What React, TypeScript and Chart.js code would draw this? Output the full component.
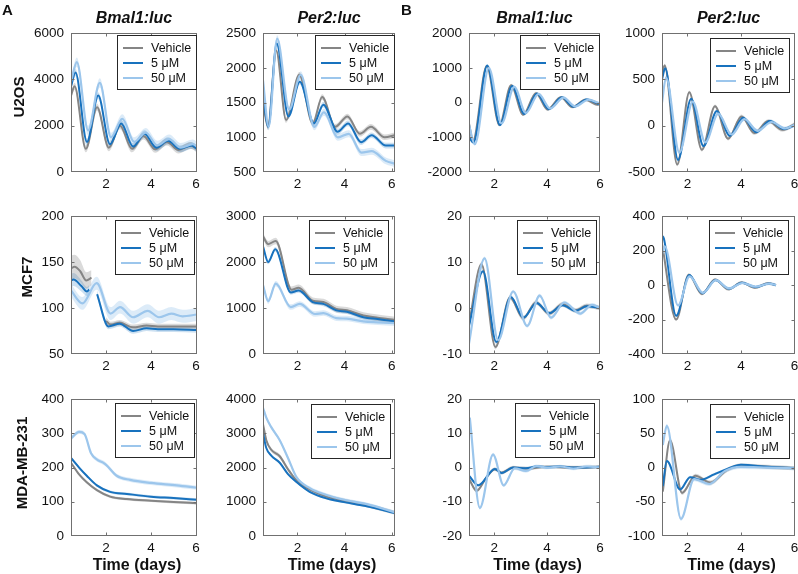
import React, { useEffect, useRef } from 'react';
import { Chart, registerables } from 'chart.js';

Chart.register(...registerables);

// [time (days), value, optional SEM at that point]
type Pt = [number, number | null, number?];

// ---------------- data ----------------
const SERIES_NAMES = ['Vehicle', '5 μM', '50 μM'];
const CELL_LINES = ['U2OS', 'MCF7', 'MDA-MB-231'];
const REPORTERS = ['Bmal1:luc', 'Per2:luc', 'Bmal1:luc', 'Per2:luc'];
const PANEL_LETTERS = ['A', 'B'];
const X_LABEL = 'Time (days)';
const X_TICKS = [2, 4, 6];

// U2OS, Bmal1:luc (raw)
const U2OS_BMAL_VEH: Pt[] = [[0.44, 3300], [0.6, 3700], [1.1, 1000], [1.6, 2800], [2.12, 1050], [2.62, 2000], [3.15, 1000], [3.66, 1550], [4.18, 980], [4.7, 1300], [5.22, 950], [5.75, 1150], [6.04, 1000]];
const U2OS_BMAL_5: Pt[] = [[0.44, 3700], [0.64, 4300], [1.15, 1300], [1.65, 3300], [2.17, 1200], [2.67, 2100], [3.2, 1100], [3.71, 1650], [4.23, 1050], [4.75, 1350], [5.27, 1000], [5.8, 1150], [6.04, 1000]];
const U2OS_BMAL_50: Pt[] = [[0.44, 3900], [0.7, 4750], [1.2, 1800], [1.72, 3850], [2.22, 1500], [2.72, 2300], [3.25, 1300], [3.76, 1700], [4.28, 1150], [4.8, 1420], [5.32, 1050], [5.85, 1200], [6.04, 1100]];
const U2OS_BMAL_SEM = [150, 150, 200];
const U2OS_BMAL_YTICKS = [0, 2000, 4000, 6000];

// U2OS, Per2:luc (raw)
const U2OS_PER_VEH: Pt[] = [[0.54, 1500], [0.75, 1150], [1.1, 2250], [1.52, 1250], [2.08, 1900], [2.65, 1200], [3.05, 1580], [3.6, 1150], [4.12, 1300], [4.65, 1050], [5.12, 1150], [5.7, 1000], [6.14, 1030]];
const U2OS_PER_5: Pt[] = [[0.54, 1600], [0.76, 1150], [1.12, 2350], [1.62, 1300], [2.1, 1800], [2.7, 1200], [3.1, 1470], [3.7, 1080], [4.15, 1200], [4.7, 930], [5.15, 1030], [5.75, 880], [6.14, 880]];
const U2OS_PER_50: Pt[] = [[0.54, 1820], [0.78, 1150], [1.14, 2420], [1.65, 1400], [2.14, 1900], [2.72, 1150], [3.12, 1360], [3.72, 1000], [4.18, 1050], [4.72, 780], [5.15, 800], [5.75, 660], [6.14, 620]];
const U2OS_PER_SEM = [40, 40, 50];
const U2OS_PER_YTICKS = [500, 1000, 1500, 2000, 2500];

// U2OS, Bmal1:luc (detrended)
const U2OS_BMAL_D_VEH: Pt[] = [[1.05, -600], [1.2, -1100], [1.72, 1050], [2.2, -650], [2.64, 500], [3.1, -350], [3.58, 270], [4.02, -200], [4.52, 150], [4.95, -130], [5.45, 80], [5.9, -60], [6.0, -40]];
const U2OS_BMAL_D_5: Pt[] = [[1.05, -1000], [1.22, -1150], [1.74, 1070], [2.22, -650], [2.68, 480], [3.14, -330], [3.62, 260], [4.06, -190], [4.56, 150], [5.0, -120], [5.5, 90], [6.0, -60]];
const U2OS_BMAL_D_50: Pt[] = [[1.05, -650], [1.27, -1200], [1.8, 1000], [2.28, -600], [2.76, 450], [3.2, -300], [3.68, 250], [4.12, -170], [4.62, 140], [5.06, -110], [5.56, 80], [6.0, -30]];
const U2OS_BMAL_D_SEM = [40, 40, 40];
const U2OS_BMAL_D_YTICKS = [-2000, -1000, 0, 1000, 2000];

// U2OS, Per2:luc (detrended)
const U2OS_PER_D_VEH: Pt[] = [[1.05, 560], [1.15, 650], [1.62, -420], [2.07, 360], [2.54, -260], [3.03, 210], [3.52, -140], [4.02, 100], [4.5, -80], [5.02, 50], [5.55, -45], [6.02, 20]];
const U2OS_PER_D_5: Pt[] = [[1.05, 500], [1.17, 620], [1.65, -370], [2.14, 290], [2.6, -220], [3.1, 160], [3.58, -110], [4.08, 85], [4.57, -70], [5.08, 50], [5.6, -35], [6.02, 5]];
const U2OS_PER_D_50: Pt[] = [[1.05, 250], [1.2, 520], [1.7, -290], [2.2, 260], [2.67, -180], [3.15, 130], [3.65, -95], [4.13, 70], [4.62, -55], [5.14, 40], [5.65, -30], [6.02, 10]];
const U2OS_PER_D_SEM = [20, 20, 20];
const U2OS_PER_D_YTICKS = [-500, 0, 500, 1000];

// MCF7, Bmal1:luc (raw) — third column is the local SEM
const MCF7_BMAL_VEH: Pt[] = [[0.44, 143, 14], [0.6, 145, 13], [0.85, 140, 12], [1.12, 130, 9], [1.35, 133, 8], [1.45, null], [2.0, 86, 4], [2.2, 82, 3], [2.6, 84, 3], [3.2, 79, 3], [3.8, 81, 3], [4.3, 80, 3], [5.0, 80, 3], [6.04, 80, 3]];
const MCF7_BMAL_5: Pt[] = [[0.44, 130, 7], [0.55, 131, 7], [0.9, 124, 6], [1.15, 118, 5], [1.25, 120, 5], [1.3, null], [1.6, 115, 4], [2.1, 80, 3], [2.6, 83, 3], [3.2, 75, 3], [3.8, 78, 3], [4.3, 77, 3], [5.0, 77, 3], [6.04, 76, 3]];
const MCF7_BMAL_50: Pt[] = [[0.44, 119], [0.95, 105], [1.58, 127], [2.2, 94], [2.62, 101], [3.2, 90], [3.85, 97], [4.35, 90], [4.9, 94], [5.4, 91], [6.04, 93]];
const MCF7_BMAL_SEM = [10, 5, 7];
const MCF7_BMAL_YTICKS = [50, 100, 150, 200];

// MCF7, Per2:luc (raw)
const MCF7_PER_VEH: Pt[] = [[0.54, 2560], [0.76, 2390], [1.08, 2460], [1.75, 1400], [2.05, 1440], [2.65, 1160], [3.1, 1130], [3.65, 980], [4.1, 950], [4.8, 840], [5.4, 790], [6.0, 750], [6.14, 740]];
const MCF7_PER_5: Pt[] = [[0.54, 2340], [0.76, 2000], [1.06, 2280], [1.72, 1340], [2.05, 1380], [2.65, 1130], [3.1, 1090], [3.65, 950], [4.1, 920], [4.8, 800], [5.4, 760], [6.0, 720], [6.14, 710]];
const MCF7_PER_50: Pt[] = [[0.54, 1500], [0.76, 1150], [1.08, 1530], [1.72, 1020], [2.1, 1090], [2.75, 870], [3.1, 890], [3.65, 780], [4.1, 770], [4.8, 710], [5.4, 690], [6.14, 670]];
const MCF7_PER_SEM = [70, 50, 60];
const MCF7_PER_YTICKS = [0, 1000, 2000, 3000];

// MCF7, Bmal1:luc (detrended)
const MCF7_BMAL_D_VEH: Pt[] = [[1.05, -3.5], [1.52, 9.5], [2.05, -8.5], [2.6, 2.3], [3.1, -2.2], [3.58, 1.2], [4.08, -1.2], [4.58, 0.8], [5.08, -0.5], [5.5, 0.5], [6.0, 0]];
const MCF7_BMAL_D_5: Pt[] = [[1.05, -3.9], [1.58, 8.0], [2.08, -7.4], [2.63, 2.4], [3.11, -2.1], [3.6, 1.1], [4.09, -1.1], [4.58, 0.6], [5.09, -0.6], [5.5, 0.4], [6.0, 0]];
const MCF7_BMAL_D_50: Pt[] = [[1.05, -7.7], [1.64, 10.8], [2.15, -7], [2.72, 3.6], [3.25, -3.9], [3.72, 2.7], [4.15, -2.1], [4.65, 1.2], [5.25, -1.2], [5.7, 0.7], [6.0, 0]];
const MCF7_BMAL_D_SEM = [0.5, 0.4, 0.4];
const MCF7_BMAL_D_YTICKS = [-10, 0, 10, 20];

// MCF7, Per2:luc (detrended)
const MCF7_PER_D_VEH: Pt[] = [[1.05, 240], [1.58, -200], [2.05, 60], [2.54, -52], [3.03, 32], [3.53, -25], [4.02, 15], [4.52, -15], [5.02, 10], [5.31, 0]];
const MCF7_PER_D_5: Pt[] = [[1.05, 285], [1.12, 270], [1.58, -178], [2.07, 58], [2.56, -48], [3.05, 30], [3.55, -22], [4.04, 14], [4.54, -12], [5.04, 9], [5.31, 0]];
const MCF7_PER_D_50: Pt[] = [[1.05, 180], [1.15, 225], [1.65, -118], [2.08, 50], [2.58, -45], [3.06, 28], [3.56, -20], [4.05, 12], [4.55, -10], [5.05, 8], [5.31, 0]];
const MCF7_PER_D_SEM = [8, 8, 8];
const MCF7_PER_D_YTICKS = [-400, -200, 0, 200, 400];

// MDA-MB-231, Bmal1:luc (raw)
const MDA_BMAL_VEH: Pt[] = [[0.44, 214], [0.8, 180], [1.14, 157], [1.59, 134], [2.18, 115], [2.92, 108], [4.0, 103], [5.0, 99], [6.04, 96]];
const MDA_BMAL_5: Pt[] = [[0.44, 228], [0.8, 200], [1.14, 176], [1.59, 148], [2.18, 129], [2.92, 123], [4.0, 115], [5.0, 111], [6.04, 106]];
const MDA_BMAL_50: Pt[] = [[0.44, 285], [0.8, 304], [1.04, 298], [1.33, 242], [1.63, 222], [1.85, 215], [2.0, 208], [2.47, 176], [3.07, 164], [4.0, 155], [5.14, 148], [6.04, 141]];
const MDA_BMAL_SEM = [4, 4, 6];
const MDA_BMAL_YTICKS = [0, 100, 200, 300, 400];

// MDA-MB-231, Per2:luc (raw)
const MDA_PER_VEH: Pt[] = [[0.54, 3270], [0.68, 2800], [0.89, 2520], [1.25, 2330], [1.6, 1950], [1.96, 1620], [2.52, 1360], [3.23, 1150], [3.98, 1030], [4.94, 900], [6.14, 680]];
const MDA_PER_5: Pt[] = [[0.54, 3010], [0.68, 2570], [0.89, 2350], [1.25, 2140], [1.6, 1810], [1.96, 1575], [2.52, 1290], [3.23, 1100], [3.98, 990], [4.94, 870], [6.14, 670]];
const MDA_PER_50: Pt[] = [[0.54, 3745], [0.68, 3460], [0.89, 3180], [1.25, 2800], [1.6, 2280], [1.96, 1720], [2.52, 1400], [3.23, 1200], [3.98, 1060], [4.94, 930], [6.14, 690]];
const MDA_PER_SEM = [60, 30, 50];
const MDA_PER_YTICKS = [0, 1000, 2000, 3000, 4000];

// MDA-MB-231, Bmal1:luc (detrended)
const MDA_BMAL_D_VEH: Pt[] = [[1.05, -3.3], [1.34, -6.8], [1.7, -3], [2.03, -0.5], [2.28, -1.5], [2.72, 0], [3.2, -0.3], [4.0, 0.2], [5.0, 0], [6.0, 0.2]];
const MDA_BMAL_D_5: Pt[] = [[1.05, -2.4], [1.4, -5.2], [2.03, -0.4], [2.28, -1.6], [2.72, 0], [3.2, -0.2], [3.6, 0.3], [4.0, 0.1], [4.5, 0.3], [5.0, 0], [6.0, 0.2]];
const MDA_BMAL_D_50: Pt[] = [[1.08, 14.6], [1.46, -11.8], [1.96, 3.8], [2.36, -5.2], [2.78, -0.2], [3.2, -1], [3.6, 0.4], [4.0, 0], [4.5, 0.3], [5.0, -0.3], [5.5, 0.3], [6.0, 0]];
const MDA_BMAL_D_SEM = [0.5, 0.4, 0.5];
const MDA_BMAL_D_YTICKS = [-20, -10, 0, 10, 20];

// MDA-MB-231, Per2:luc (detrended)
const MDA_PER_D_VEH: Pt[] = [[1.08, -35], [1.35, 40], [1.8, -37], [2.3, -12], [2.85, -22], [3.5, -3], [4.0, 3], [5.0, 1], [6.02, -1]];
const MDA_PER_D_5: Pt[] = [[1.08, -27], [1.23, 9.5], [1.73, -32], [2.1, -14], [2.47, -18], [3.0, -10], [3.5, -2], [4.0, 4], [5.0, 1], [6.02, -1]];
const MDA_PER_D_50: Pt[] = [[1.08, 33], [1.23, 61], [1.76, -75], [2.25, -17], [2.82, -24], [3.4, -5], [4.0, 1], [5.0, 0], [6.02, -1]];
const MDA_PER_D_SEM = [3, 2, 3];
const MDA_PER_D_YTICKS = [-100, -50, 0, 50, 100];

// ---------------- styles & layout ----------------
const FONT = "'Liberation Sans', Arial, Helvetica, sans-serif";
const LINE_COLORS = ['#858585', '#1872be', '#9cc6ec'];
const LINE_WIDTHS = [2, 2, 2.2];
const BAND_COLORS = ['rgba(133,133,133,0.3)', 'rgba(24,114,190,0.22)', 'rgba(156,198,236,0.35)'];
const BOX_COLOR = '#707070';

const ROW_TOP = [28, 211, 394];
const ROW_BOTTOM = [172, 354, 536];
const COL_LEFT = [71, 263, 469, 662];
const COL_RIGHT = [197, 395, 600, 795];
const COL_XRANGE = [[0.44, 6.04], [0.54, 6.14], [1.05, 6.0], [1.05, 6.02]];
// legend offsets [gap from right, gap from top] per row/col
const LEGEND_GAPS = [
  [[1, 1.5], [1, 1.5], [1, 1.5], [6, 5]],
  [[3, 4], [7, 3.5], [4, 3.5], [7, 4]],
  [[3, 4], [5, 5], [6, 4], [6, 5]],
];
const ROW_LABEL_POS = [[19, 97], [27, 277], [22, 463]];

const ML = 64, MR = 8, MT = 10, MB = 26;

type Panel = { row: number; col: number; series: Pt[][]; sem: number[]; yTicks: number[] };

const PANELS: Panel[] = [
  { row: 0, col: 0, series: [U2OS_BMAL_VEH, U2OS_BMAL_5, U2OS_BMAL_50], sem: U2OS_BMAL_SEM, yTicks: U2OS_BMAL_YTICKS },
  { row: 0, col: 1, series: [U2OS_PER_VEH, U2OS_PER_5, U2OS_PER_50], sem: U2OS_PER_SEM, yTicks: U2OS_PER_YTICKS },
  { row: 0, col: 2, series: [U2OS_BMAL_D_VEH, U2OS_BMAL_D_5, U2OS_BMAL_D_50], sem: U2OS_BMAL_D_SEM, yTicks: U2OS_BMAL_D_YTICKS },
  { row: 0, col: 3, series: [U2OS_PER_D_VEH, U2OS_PER_D_5, U2OS_PER_D_50], sem: U2OS_PER_D_SEM, yTicks: U2OS_PER_D_YTICKS },
  { row: 1, col: 0, series: [MCF7_BMAL_VEH, MCF7_BMAL_5, MCF7_BMAL_50], sem: MCF7_BMAL_SEM, yTicks: MCF7_BMAL_YTICKS },
  { row: 1, col: 1, series: [MCF7_PER_VEH, MCF7_PER_5, MCF7_PER_50], sem: MCF7_PER_SEM, yTicks: MCF7_PER_YTICKS },
  { row: 1, col: 2, series: [MCF7_BMAL_D_VEH, MCF7_BMAL_D_5, MCF7_BMAL_D_50], sem: MCF7_BMAL_D_SEM, yTicks: MCF7_BMAL_D_YTICKS },
  { row: 1, col: 3, series: [MCF7_PER_D_VEH, MCF7_PER_D_5, MCF7_PER_D_50], sem: MCF7_PER_D_SEM, yTicks: MCF7_PER_D_YTICKS },
  { row: 2, col: 0, series: [MDA_BMAL_VEH, MDA_BMAL_5, MDA_BMAL_50], sem: MDA_BMAL_SEM, yTicks: MDA_BMAL_YTICKS },
  { row: 2, col: 1, series: [MDA_PER_VEH, MDA_PER_5, MDA_PER_50], sem: MDA_PER_SEM, yTicks: MDA_PER_YTICKS },
  { row: 2, col: 2, series: [MDA_BMAL_D_VEH, MDA_BMAL_D_5, MDA_BMAL_D_50], sem: MDA_BMAL_D_SEM, yTicks: MDA_BMAL_D_YTICKS },
  { row: 2, col: 3, series: [MDA_PER_D_VEH, MDA_PER_D_5, MDA_PER_D_50], sem: MDA_PER_D_SEM, yTicks: MDA_PER_D_YTICKS },
];

function PanelChart({ panel }: { panel: Panel }) {
  const ref = useRef<HTMLCanvasElement>(null);
  const { row, col } = panel;
  const plotW = COL_RIGHT[col] - COL_LEFT[col];
  const plotH = ROW_BOTTOM[row] - ROW_TOP[row];
  const W = ML + plotW + MR;
  const H = MT + plotH + MB;

  useEffect(() => {
    if (!ref.current) return;
    const datasets: any[] = [];
    panel.series.forEach((s, i) => {
      const sem = panel.sem[i];
      const base = {
        borderColor: 'rgba(0,0,0,0)',
        borderWidth: 0,
        pointRadius: 0,
        cubicInterpolationMode: 'monotone',
        spanGaps: false,
        order: 10 + i,
      };
      const err = (p: Pt) => (p[2] === undefined ? sem : (p[2] as number));
      datasets.push({ ...base, data: s.map((p) => ({ x: p[0], y: p[1] === null ? null : (p[1] as number) - err(p) })), fill: false });
      datasets.push({ ...base, data: s.map((p) => ({ x: p[0], y: p[1] === null ? null : (p[1] as number) + err(p) })), fill: '-1', backgroundColor: BAND_COLORS[i] });
    });
    panel.series.forEach((s, i) => {
      datasets.push({
        label: SERIES_NAMES[i],
        data: s.map((p) => ({ x: p[0], y: p[1] })),
        borderColor: LINE_COLORS[i],
        borderWidth: LINE_WIDTHS[i],
        pointRadius: 0,
        fill: false,
        cubicInterpolationMode: 'monotone',
        spanGaps: false,
        order: 3 - i,
      });
    });

    const [gapR, gapT] = LEGEND_GAPS[row][col];
    const yTicks = panel.yTicks;

    const framePlugin = {
      id: 'panelFrame',
      afterDraw(chart: any) {
        const { ctx, chartArea: a, scales } = chart;
        ctx.save();
        ctx.strokeStyle = BOX_COLOR;
        ctx.lineWidth = 1;
        const l = Math.round(a.left) + 0.5, t = Math.round(a.top) + 0.5;
        const r = Math.round(a.right) - 0.5, b = Math.round(a.bottom) - 0.5;
        ctx.strokeRect(l, t, r - l, b - t);
        ctx.beginPath();
        X_TICKS.forEach((v) => {
          const px = Math.round(scales.x.getPixelForValue(v)) + 0.5;
          if (px < l + 1 || px > r - 1) return;
          ctx.moveTo(px, b); ctx.lineTo(px, b - 3);
          ctx.moveTo(px, t); ctx.lineTo(px, t + 3);
        });
        yTicks.forEach((v) => {
          const py = Math.round(scales.y.getPixelForValue(v)) + 0.5;
          if (py < t + 1 || py > b - 1) return;
          ctx.moveTo(l, py); ctx.lineTo(l + 3, py);
          ctx.moveTo(r, py); ctx.lineTo(r - 3, py);
        });
        ctx.stroke();
        // legend
        const bw = 79, bh = 54;
        const bx = Math.round(a.right - gapR - bw);
        const by = Math.round(a.top + gapT);
        ctx.fillStyle = '#ffffff';
        ctx.fillRect(bx, by, bw, bh);
        ctx.strokeStyle = '#262626';
        ctx.lineWidth = 1;
        ctx.strokeRect(bx + 0.5, by + 0.5, bw, bh);
        ctx.font = `12.5px ${FONT}`;
        ctx.textBaseline = 'middle';
        ctx.textAlign = 'left';
        SERIES_NAMES.forEach((name, i) => {
          const yy = by + 13 + 15 * i;
          ctx.strokeStyle = LINE_COLORS[i];
          ctx.lineWidth = 2;
          ctx.beginPath();
          ctx.moveTo(bx + 6, yy);
          ctx.lineTo(bx + 26, yy);
          ctx.stroke();
          ctx.fillStyle = '#111111';
          ctx.fillText(name, bx + 34, yy + 0.5);
        });
        ctx.restore();
      },
    };

    const tickFont = { family: FONT, size: 13.5 };
    const chart = new Chart(ref.current, {
      type: 'line',
      data: { datasets },
      options: {
        animation: false,
        responsive: false,
        maintainAspectRatio: false,
        devicePixelRatio: 1,
        layout: { padding: { top: MT, right: MR, left: 0, bottom: 0 } },
        plugins: { legend: { display: false }, tooltip: { enabled: false }, title: { display: false } },
        scales: {
          x: {
            type: 'linear',
            min: COL_XRANGE[col][0],
            max: COL_XRANGE[col][1],
            afterBuildTicks: (s: any) => { s.ticks = X_TICKS.map((v) => ({ value: v })); },
            afterFit: (s: any) => { s.height = MB; },
            grid: { display: false, drawTicks: false },
            border: { display: false },
            ticks: { font: tickFont, color: '#111', padding: 4, maxRotation: 0, autoSkip: false, callback: (v: any) => String(v) },
          },
          y: {
            type: 'linear',
            min: yTicks[0],
            max: yTicks[yTicks.length - 1],
            afterBuildTicks: (s: any) => { s.ticks = yTicks.map((v) => ({ value: v })); },
            afterFit: (s: any) => { s.width = ML; },
            grid: { display: false, drawTicks: false },
            border: { display: false },
            ticks: { font: tickFont, color: '#111', padding: 7, autoSkip: false, callback: (v: any) => String(v) },
          },
        },
      },
      plugins: [framePlugin],
    } as any);
    return () => chart.destroy();
  }, []);

  return (
    <canvas
      ref={ref}
      width={W}
      height={H}
      style={{ position: 'absolute', left: COL_LEFT[col] - ML, top: ROW_TOP[row] - MT, width: W, height: H }}
    />
  );
}

const textBase: React.CSSProperties = {
  position: 'absolute',
  fontFamily: FONT,
  color: '#111',
  whiteSpace: 'nowrap',
  textAlign: 'center',
  width: 200,
  height: 20,
  lineHeight: '20px',
};

export default function App() {
  return (
    <div style={{ position: 'absolute', left: 0, top: 0, width: 798, height: 574, background: '#fff', overflow: 'hidden' }}>
      {PANELS.map((p, i) => <PanelChart key={i} panel={p} />)}
      {REPORTERS.map((r, c) => (
        <div key={'t' + c} style={{ ...textBase, left: (COL_LEFT[c] + COL_RIGHT[c]) / 2 - 100, top: 8, fontSize: 16, fontWeight: 'bold', fontStyle: 'italic' }}>{r}</div>
      ))}
      {CELL_LINES.map((name, r) => (
        <div key={'r' + r} style={{ ...textBase, left: ROW_LABEL_POS[r][0] - 100, top: ROW_LABEL_POS[r][1] - 10, fontSize: 15, fontWeight: 'bold', transform: 'rotate(-90deg)' }}>{name}</div>
      ))}
      {COL_LEFT.map((l, c) => (
        <div key={'x' + c} style={{ ...textBase, left: (l + COL_RIGHT[c]) / 2 + 3 - 100, top: 555, fontSize: 16, fontWeight: 'bold' }}>{X_LABEL}</div>
      ))}
      {PANEL_LETTERS.map((s, i) => (
        <div key={'l' + i} style={{ ...textBase, textAlign: 'left', width: 20, left: i === 0 ? 2 : 401, top: 0, fontSize: 15, fontWeight: 'bold' }}>{s}</div>
      ))}
    </div>
  );
}
